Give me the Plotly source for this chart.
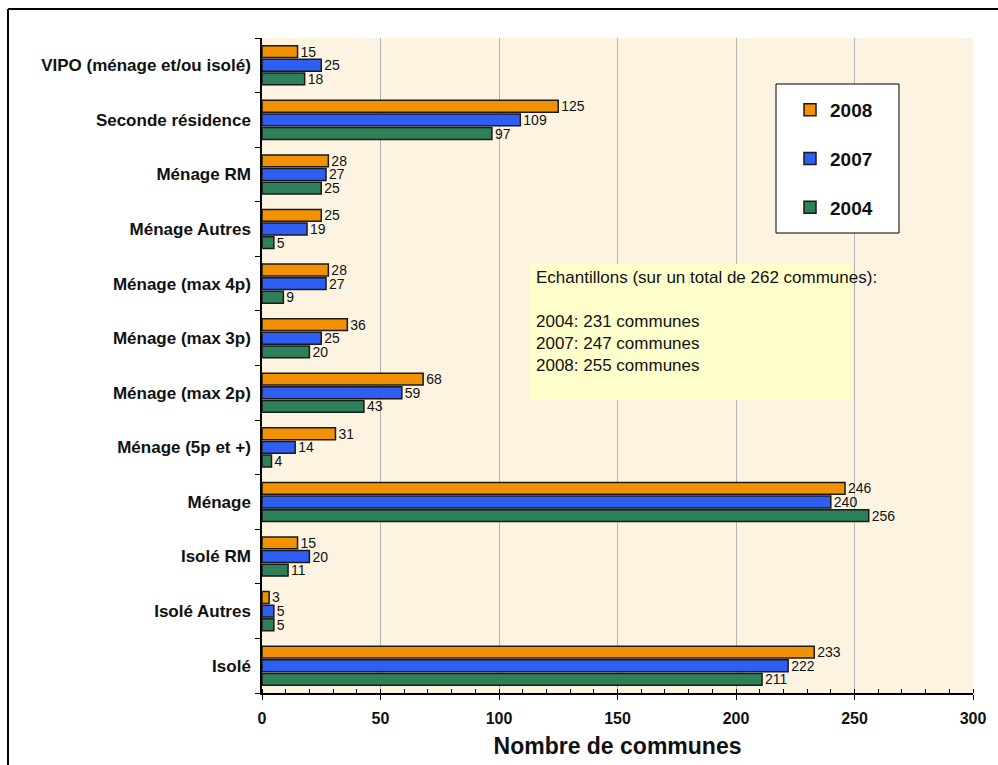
import plotly.graph_objects as go

# Categories, listed from the bottom of the chart to the top
categories = [
    "Isolé",
    "Isolé Autres",
    "Isolé RM",
    "Ménage",
    "Ménage (5p et +)",
    "Ménage (max 2p)",
    "Ménage (max 3p)",
    "Ménage (max 4p)",
    "Ménage Autres",
    "Ménage RM",
    "Seconde résidence",
    "VIPO (ménage et/ou isolé)",
]

values_2004 = [211, 5, 11, 256, 4, 43, 20, 9, 5, 25, 97, 18]
values_2007 = [222, 5, 20, 240, 14, 59, 25, 27, 19, 27, 109, 25]
values_2008 = [233, 3, 15, 246, 31, 68, 36, 28, 25, 28, 125, 15]

# name, values, fill colour, rank in the legend (2008 listed first)
series = [
    ("2004", values_2004, "#2E8058", 3),
    ("2007", values_2007, "#2F5EF2", 2),
    ("2008", values_2008, "#F29200", 1),
]

x_ticks = [0, 50, 100, 150, 200, 250, 300]

sample_lines = [
    "Echantillons (sur un total de 262 communes):",
    "",
    "2004: 231 communes",
    "2007: 247 communes",
    "2008: 255 communes",
]

FONT = "Liberation Sans, Arial, sans-serif"

W, H = 998, 765
ML, MR, MT, MB = 262, 25, 38, 72
PW, PH = W - ML - MR, H - MT - MB


def px(x):
    return (x - ML) / PW


def py(y):
    return (H - MB - y) / PH


fig = go.Figure()
for name, vals, color, rank in series:
    fig.add_trace(go.Bar(
        y=categories,
        x=vals,
        name=name,
        orientation="h",
        marker=dict(color=color, line=dict(color="#1A1A1A", width=1.5)),
        text=vals,
        texttemplate="%{x}",
        textposition="outside",
        textfont=dict(family=FONT, size=14, color="#111111"),
        constraintext="none",
        cliponaxis=False,
        legendgroup=name,
        legendrank=rank,
        hoverinfo="skip",
    ))

shapes = [
    # outer frame (top and left edges visible)
    dict(type="line", xref="paper", yref="paper",
         x0=px(8), x1=px(W + 20), y0=py(9), y1=py(9),
         line=dict(color="#000000", width=2)),
    dict(type="line", xref="paper", yref="paper",
         x0=px(8), x1=px(8), y0=py(9), y1=py(H + 20),
         line=dict(color="#000000", width=2)),
    # legend frame
    dict(type="rect", xref="paper", yref="paper",
         x0=px(776), x1=px(899), y0=py(84), y1=py(233),
         fillcolor="#FFFFFF", line=dict(color="#000000", width=1),
         layer="above"),
    # sample-size note background
    dict(type="rect", xref="paper", yref="paper",
         x0=px(530), x1=px(852), y0=py(264), y1=py(400),
         fillcolor="#FFFFCC", line=dict(width=0),
         layer="above"),
]

annotations = [
    dict(xref="paper", yref="paper", x=px(534), y=py(266),
         xanchor="left", yanchor="top", align="left", showarrow=False,
         text="<br>".join(sample_lines),
         font=dict(family=FONT, size=17, color="#111111")),
]

fig.update_layout(
    width=W, height=H,
    margin=dict(l=ML, r=MR, t=MT, b=MB, pad=0, autoexpand=False),
    paper_bgcolor="#FFFFFF",
    plot_bgcolor="#FCF4E0",
    barmode="group",
    bargap=0.25,
    bargroupgap=0.13,
    font=dict(family=FONT, color="#111111"),
    showlegend=True,
    legend=dict(
        x=px(790), y=py(91), xanchor="left", yanchor="top",
        bgcolor="rgba(0,0,0,0)", borderwidth=0,
        traceorder="grouped",
        tracegroupgap=21,
        font=dict(family=FONT, size=19, color="#111111", weight="bold"),
        itemclick=False,
    ),
    shapes=shapes,
    annotations=annotations,
    xaxis=dict(
        range=[0, 300],
        tickvals=x_ticks,
        automargin=False,
        showgrid=True, gridcolor="#B4B4B4", gridwidth=1,
        zeroline=False,
        showline=True, linecolor="#000000", linewidth=1.5,
        ticks="outside", ticklen=5, tickcolor="#000000", tickwidth=1,
        minor=dict(dtick=10, ticks="inside", ticklen=4,
                   tickcolor="#000000", showgrid=False),
        tickfont=dict(family=FONT, size=16, color="#111111", weight="bold"),
        ticklabelstandoff=5,
        title=dict(text="Nombre de communes", standoff=12,
                   font=dict(family=FONT, size=23, color="#111111",
                             weight="bold")),
        fixedrange=True,
    ),
    yaxis=dict(
        type="category",
        categoryorder="array",
        categoryarray=categories,
        automargin=False,
        showline=True, linecolor="#000000", linewidth=1.5,
        ticks="outside", ticklen=5, tickcolor="#000000",
        tickson="boundaries",
        showgrid=False,
        tickfont=dict(family=FONT, size=17, color="#111111", weight="bold"),
        ticklabelstandoff=6,
        fixedrange=True,
    ),
)

fig.write_html("out.html")
